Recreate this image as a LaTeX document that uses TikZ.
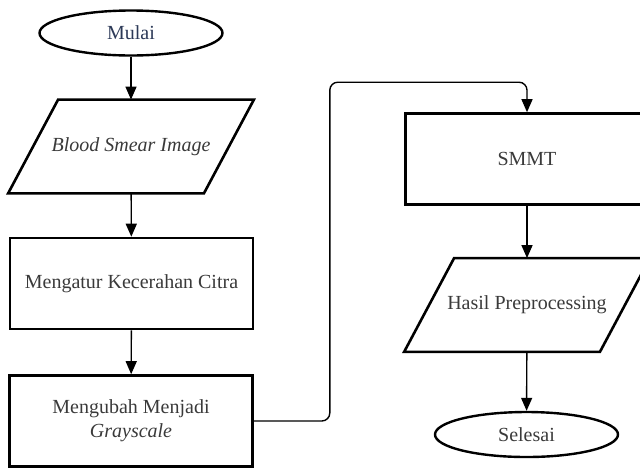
\documentclass[tikz,border=0pt]{standalone}
\usepackage{fontspec}
\setmainfont{Liberation Serif}
\usepackage{xcolor}
\usepackage{tikz}
\usetikzlibrary{calc}
\usetikzlibrary{arrows.meta,shapes.geometric}

\definecolor{textgray}{HTML}{3A3A3A}
\definecolor{startblue}{HTML}{2C3957}

\begin{document}
\begin{tikzpicture}[x=0.5pt,y=-0.5pt,
    every node/.style={font=\fontsize{10}{12}\selectfont,text=textgray},
    terminal/.style={draw,ellipse,line width=1.2pt,minimum width=91.5pt,minimum height=22.5pt,inner sep=0pt},
    process/.style={draw,rectangle,line width=1.3pt,minimum width=121.5pt,minimum height=45.5pt,align=center},
    iobox/.style={rectangle,minimum width=97.5pt,minimum height=46.5pt},
    ioline/.style={line width=1.3pt},
    flow/.style={-{Triangle[length=6.5pt,width=5.5pt]},line width=0.7pt}]
\useasboundingbox (0,0) rectangle (640,467);
\clip (0,0) rectangle (640,467);

% left column
\node[terminal,text=startblue] (mulai) at (131,33) {Mulai};
\node[iobox] (blood) at (131,146.5) {\itshape Blood Smear Image};
\node[process] (atur) at (131.5,283.5) {Mengatur Kecerahan Citra};
\node[process] (ubah) at (131,421) {Mengubah Menjadi\\\itshape Grayscale};

% right column
\node[process] (smmt) at (527,159) {SMMT};
\node[iobox] (hasil) at (527,305) {Hasil Preprocessing};
\node[terminal] (selesai) at (526.5,434.5) {Selesai};

% parallelogram outlines
\foreach \n in {blood,hasil} {
    \draw[ioline] ($(\n.north west)+(25,0)$) -- ($(\n.north east)+(25,0)$)
        -- ($(\n.south east)+(-25,0)$) -- ($(\n.south west)+(-25,0)$) -- cycle;
}

\draw[flow] (mulai) -- (blood);
\draw[flow] (blood) -- (atur);
\draw[flow] (atur) -- (ubah);
\draw[flow,rounded corners=4pt] (ubah.east) -- ++(76,0) |- ($(smmt.north)+(0,-30)$) -- (smmt.north);
\draw[flow] (smmt) -- (hasil);
\draw[flow] (hasil) -- (selesai);
\end{tikzpicture}
\end{document}
